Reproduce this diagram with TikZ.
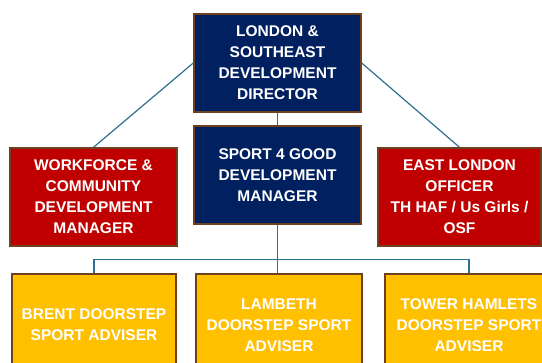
\documentclass[tikz,border=0pt]{standalone}
\usepackage{fontspec}
\setmainfont{Liberation Sans}
\usepackage{tikz}
\usetikzlibrary{positioning,calc}

\definecolor{navy}{HTML}{002060}
\definecolor{darkred}{HTML}{C00000}
\definecolor{gold}{HTML}{FFC000}
\definecolor{edge}{HTML}{6E4020}
\definecolor{linkblue}{HTML}{2F6F8F}

\begin{document}
\begin{tikzpicture}[x=1pt,y=1pt,
    box/.style={draw=edge,line width=1.4pt,inner sep=0pt,align=center,text=white,
      font=\fontsize{15.5}{21}\selectfont\bfseries,minimum height=98pt},
    conn/.style={draw=linkblue,line width=1.2pt}]
  \clip (0,0) rectangle (542,363);
  % top level
  \node[box,fill=navy,minimum width=167pt] (dir) at (277.5,300) {LONDON \&\\SOUTHEAST\\DEVELOPMENT\\DIRECTOR};
  % second level
  \node[box,fill=navy,minimum width=167pt] (mgr) at (277.5,188) {SPORT 4 GOOD\\DEVELOPMENT\\MANAGER};
  \node[box,fill=darkred,minimum width=167pt] (wcd) at (93.5,166) {WORKFORCE \&\\COMMUNITY\\DEVELOPMENT\\MANAGER};
  \node[box,fill=darkred,minimum width=163pt] (elo) at (459.5,166) {EAST LONDON\\OFFICER\\TH HAF / Us Girls /\\OSF};
  % advisers
  \node[box,fill=gold,minimum width=164pt,minimum height=102pt] (brent) at (94,38) {BRENT DOORSTEP\\SPORT ADVISER};
  \node[box,fill=gold,minimum width=166pt,minimum height=102pt] (lambeth) at (279,38) {LAMBETH\\DOORSTEP SPORT\\ADVISER};
  \node[box,fill=gold,minimum width=168pt,minimum height=102pt] (tower) at (469,38) {TOWER HAMLETS\\DOORSTEP SPORT\\ADVISER};

  \draw[conn] (dir.west) -- (wcd.north);
  \draw[conn] (dir.east) -- (elo.north);
  \draw[conn] (dir.south) -- (mgr.north);
  \draw[conn] (mgr.south) -- (mgr.south |- lambeth.north);
  \draw[conn] (brent.north) -- ++(0,14) -| (tower.north);
\end{tikzpicture}
\end{document}
